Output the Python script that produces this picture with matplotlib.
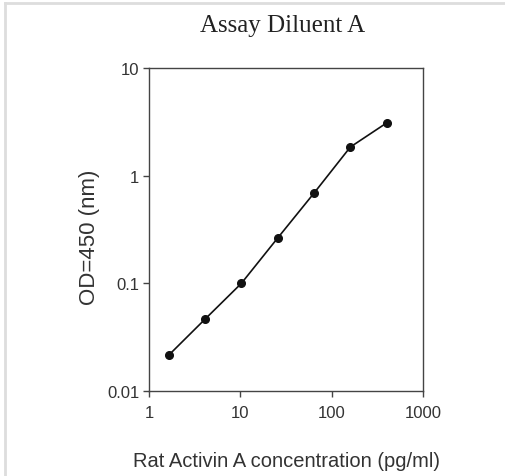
import numpy as np
import matplotlib.pyplot as plt
from matplotlib.lines import Line2D
from matplotlib.ticker import FixedLocator, NullLocator

# 2.5-fold dilution series, OD
conc = [1.6384, 4.096, 10.24, 25.6, 64, 160, 400]
od = [0.0215, 0.0465, 0.100, 0.264, 0.69, 1.85, 3.1]

x_ticks = [1, 10, 100, 1000]
x_labels = ['1', '10', '100', '1000']
y_ticks = [0.01, 0.1, 1, 10]
y_labels = ['0.01', '0.1', '1', '10']

text_col = '#333333'
sans = ['Liberation Sans', 'DejaVu Sans']

fig = plt.figure(figsize=(5.06, 4.77), dpi=100)
ax = fig.add_axes([0.2945, 0.178, 0.5415, 0.677])

ax.plot(conc, od, color='#111111', lw=1.2, marker='o', ms=5.5,
        mfc='#111111', mec='#111111')

ax.set_xscale('log')
ax.set_yscale('log')
ax.set_xlim(1, 1000)
ax.set_ylim(0.01, 10)
ax.xaxis.set_major_locator(FixedLocator(x_ticks))
ax.yaxis.set_major_locator(FixedLocator(y_ticks))
ax.xaxis.set_minor_locator(NullLocator())
ax.yaxis.set_minor_locator(NullLocator())
ax.set_xticklabels(x_labels, family=sans, fontsize=12, color=text_col)
ax.set_yticklabels(y_labels, family=sans, fontsize=12, color=text_col)
ax.tick_params(direction='out', length=4, width=1, color='#444444', pad=3)
ax.tick_params(axis='x', pad=6)

for s in ax.spines.values():
    s.set_color('#444444')
    s.set_linewidth(1)

ax.set_xlabel('Rat Activin A concentration (pg/ml)', family=sans,
              fontsize=14.5, color=text_col, labelpad=22)
ax.set_ylabel('OD=450 (nm)', family=sans, fontsize=16, color=text_col,
              labelpad=5)
ax.yaxis.label.set_y(0.48)
fig.text(0.558, 0.945, 'Assay Diluent A', ha='center', va='center',
         family=['Liberation Serif', 'DejaVu Serif'], fontsize=18,
         color='#222222')

# light frame round the picture
fig.add_artist(Line2D([0.01, 1], [0.992, 0.992], color='#dddddd', lw=2,
                      transform=fig.transFigure))
fig.add_artist(Line2D([0.01, 0.01], [0, 0.992], color='#dddddd', lw=2,
                      transform=fig.transFigure))

fig.savefig('out.png', dpi=100)
